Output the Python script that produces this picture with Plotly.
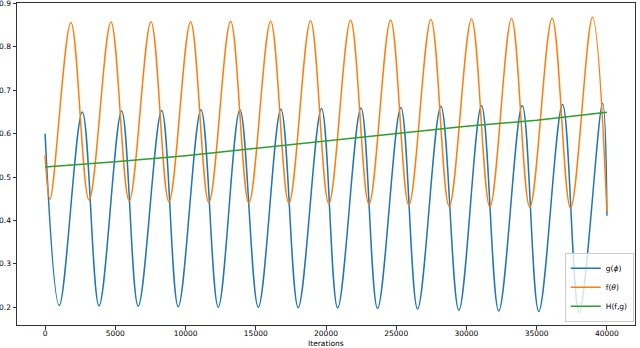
import plotly.graph_objects as go

# values (iteration, value)
g_iter = [0, 1010, 2650, 3840, 5450, 6630, 8300, 9480, 11100, 12330, 13870, 15180,
          16790, 18020, 19680, 20830, 22490, 23670, 25330, 26520, 28180, 29460,
          31070, 32300, 33970, 35150, 36840, 38020, 39690, 40000]
g_vals = [0.600, 0.204, 0.650, 0.203, 0.652, 0.202, 0.653, 0.201, 0.655, 0.200, 0.655, 0.200,
          0.656, 0.199, 0.658, 0.198, 0.659, 0.197, 0.660, 0.196, 0.663, 0.193,
          0.664, 0.191, 0.665, 0.190, 0.667, 0.188, 0.670, 0.411]

f_iter = [0, 350, 1840, 3130, 4690, 5990, 7540, 8820, 10360, 11660, 13210, 14510,
          16060, 17360, 18900, 20200, 21750, 23060, 24600, 25900, 27470, 28770,
          30360, 31670, 33210, 34510, 36100, 37410, 38970, 40000]
f_vals = [0.550, 0.449, 0.856, 0.447, 0.857, 0.445, 0.858, 0.443, 0.858, 0.441, 0.859, 0.440,
          0.859, 0.439, 0.860, 0.438, 0.861, 0.437, 0.862, 0.435, 0.863, 0.432,
          0.864, 0.431, 0.865, 0.430, 0.866, 0.428, 0.868, 0.420]

h_iter = [0, 5000, 10000, 15000, 20000, 25000, 30000, 35000, 40000]
h_vals = [0.523, 0.535, 0.549, 0.566, 0.583, 0.600, 0.617, 0.631, 0.649]

x_ticks = [0, 5000, 10000, 15000, 20000, 25000, 30000, 35000, 40000]
y_ticks = [0.2, 0.3, 0.4, 0.5, 0.6, 0.7, 0.8, 0.9]

font = dict(family="DejaVu Sans", size=7.5, color="#000000")

fig = go.Figure()
fig.add_trace(go.Scatter(x=g_iter, y=g_vals, mode="lines", name="g(<i>ϕ</i>)",
                         line=dict(color="#1f77b4", width=1.5, shape="spline", smoothing=1)))
fig.add_trace(go.Scatter(x=f_iter, y=f_vals, mode="lines", name="f(<i>θ</i>)",
                         line=dict(color="#ff7f0e", width=1.5, shape="spline", smoothing=1)))
fig.add_trace(go.Scatter(x=h_iter, y=h_vals, mode="lines", name="H(f,g)",
                         line=dict(color="#2ca02c", width=1.5)))

axis = dict(showgrid=False, zeroline=False, showline=True, linecolor="#333333", linewidth=1,
            mirror=True, ticks="outside", ticklen=3.5, tickcolor="#333333", tickfont=font,
            automargin=False, ticklabeloverflow="allow")
fig.update_xaxes(range=[-2000, 42000], tickvals=x_ticks, tickformat="d", ticklabelstandoff=-3, **axis)
fig.update_yaxes(range=[0.159, 0.901], tickvals=y_ticks, tickformat=".1f", ticklabelstandoff=0, **axis)

# x axis title placed just under the tick labels
fig.add_annotation(text="Iterations", xref="paper", yref="paper", x=0.5, y=-18 / 322,
                   xanchor="center", yanchor="middle", showarrow=False, font=font)

fig.update_layout(
    width=640, height=348,
    margin=dict(l=17, r=5, t=3, b=23),
    plot_bgcolor="white", paper_bgcolor="white",
    font=font,
    legend=dict(x=0.998, y=0.01, xanchor="right", yanchor="bottom",
                bgcolor="rgba(255,255,255,0.8)", bordercolor="#cccccc", borderwidth=1,
                font=font, itemwidth=30, tracegroupgap=0),
)

# the page body has a default 8px margin; drop it so the figure fills the window
fig.write_html("out.html", config={"displayModeBar": False},
               post_script="document.body.style.margin='0';")
